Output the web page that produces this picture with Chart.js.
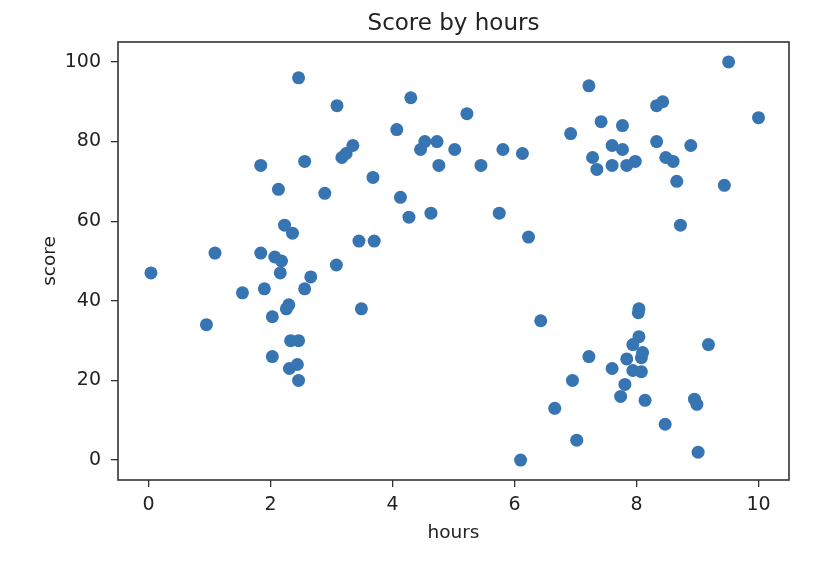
<!DOCTYPE html>
<html>
<head>
<meta charset="utf-8">
<script src="https://cdn.jsdelivr.net/npm/chart.js@4/dist/chart.umd.min.js"></script>
<style>
  html, body { margin: 0; padding: 0; background: #fff; }
  #wrap { width: 832px; height: 566px; }
</style>
</head>
<body>
<div id="wrap"><canvas id="c" width="832" height="566"></canvas></div>
<script>
const chartTitle = "Score by hours";
const xLabel = "hours";
const yLabel = "score";
const xTickValues = [0, 2, 4, 6, 8, 10];
const yTickValues = [0, 20, 40, 60, 80, 100];

const hours = [
  0.04, 0.95, 1.09, 1.54, 1.84, 1.84, 1.90, 2.03, 2.03, 2.07,
  2.13, 2.16, 2.18, 2.23, 2.26, 2.30, 2.31, 2.33, 2.36, 2.44,
  2.46, 2.46, 2.46, 2.56, 2.56, 2.66, 2.89, 3.08, 3.09, 3.17,
  3.24, 3.35, 3.45, 3.49, 3.68, 3.70, 4.07, 4.13, 4.27, 4.30,
  4.46, 4.53, 4.63, 4.73, 4.76, 5.02, 5.22, 5.45, 5.75, 5.81,
  6.13, 6.23, 6.43, 6.10, 6.66, 6.92, 6.95, 7.02, 7.22, 7.22,
  7.28, 7.35, 7.42, 7.60, 7.60, 7.60, 7.74, 7.77, 7.77, 7.81,
  7.84, 7.84, 7.94, 7.94, 7.98, 8.03, 8.04, 8.04, 8.08, 8.08,
  8.10, 8.14, 8.33, 8.33, 8.43, 8.47, 8.48, 8.60, 8.66, 8.72,
  8.89, 8.95, 8.99, 9.01, 9.18, 9.44, 9.51, 10.0
];
const scores = [
  47, 34, 52, 42, 74, 52, 43, 36, 26, 51,
  68, 47, 50, 59, 38, 39, 23, 30, 57, 24,
  30, 20, 96, 75, 43, 46, 67, 49, 89, 76,
  77, 79, 55, 38, 71, 55, 83, 66, 61, 91,
  78, 80, 62, 80, 74, 78, 87, 74, 62, 78,
  77, 56, 35, 0, 13, 82, 20, 5, 94, 26,
  76, 73, 85, 79, 74, 23, 16, 84, 78, 19,
  74, 25.4, 29, 22.5, 75, 37, 38, 31, 25.7, 22.2,
  27, 15, 89, 80, 90, 9, 76, 75, 70, 59,
  79, 15.3, 14, 2, 29, 69, 100, 86
];

const points = hours.map((h, i) => ({ x: h, y: scores[i] }));

const frame = {
  id: 'frame',
  afterDatasetsDraw(chart) {
    const { ctx, chartArea: a } = chart;
    ctx.save();
    ctx.strokeStyle = '#333';
    ctx.lineWidth = 1.6;
    ctx.strokeRect(a.left, a.top, a.right - a.left, a.bottom - a.top);
    ctx.restore();
  }
};

const font = 'DejaVu Sans';
new Chart(document.getElementById('c'), {
  type: 'scatter',
  data: {
    datasets: [{
      data: points,
      backgroundColor: '#3774b2',
      borderWidth: 0,
      pointRadius: 6.5,
      pointHoverRadius: 6.5
    }]
  },
  options: {
    responsive: false,
    animation: false,
    layout: { padding: { left: 0, right: 43, top: 0, bottom: 0 } },
    plugins: {
      legend: { display: false },
      tooltip: { enabled: false },
      title: {
        display: true,
        fullSize: false,
        text: chartTitle,
        color: '#222',
        font: { family: font, size: 23, weight: 'normal' },
        padding: { top: 10.4, bottom: 4 }
      }
    },
    scales: {
      x: {
        type: 'linear',
        min: -0.5,
        max: 10.5,
        afterBuildTicks: s => { s.ticks = xTickValues.map(v => ({ value: v })); },
        afterFit: s => { s.height = 86; s.paddingLeft = 0; s.paddingRight = 0; },
        border: { display: false },
        grid: { display: true, drawOnChartArea: false, drawTicks: true, tickLength: 7, color: '#333', lineWidth: 1.3 },
        ticks: { color: '#222', font: { family: font, size: 19 }, padding: 7, maxRotation: 0 },
        title: { display: true, text: xLabel, color: '#222', font: { family: font, size: 18.5 }, padding: { top: 0, bottom: 22 } }
      },
      y: {
        type: 'linear',
        min: -5,
        max: 105,
        afterBuildTicks: s => { s.ticks = yTickValues.map(v => ({ value: v })); },
        afterFit: s => { s.width = 118; s.paddingTop = 0; s.paddingBottom = 0; },
        border: { display: false },
        grid: { display: true, drawOnChartArea: false, drawTicks: true, tickLength: 7, color: '#333', lineWidth: 1.3 },
        ticks: { color: '#222', font: { family: font, size: 19 }, padding: 10 },
        title: { display: true, text: yLabel, color: '#222', font: { family: font, size: 18.5 }, padding: { top: 39, bottom: 0 } }
      }
    }
  },
  plugins: [frame]
});
</script>
</body>
</html>
